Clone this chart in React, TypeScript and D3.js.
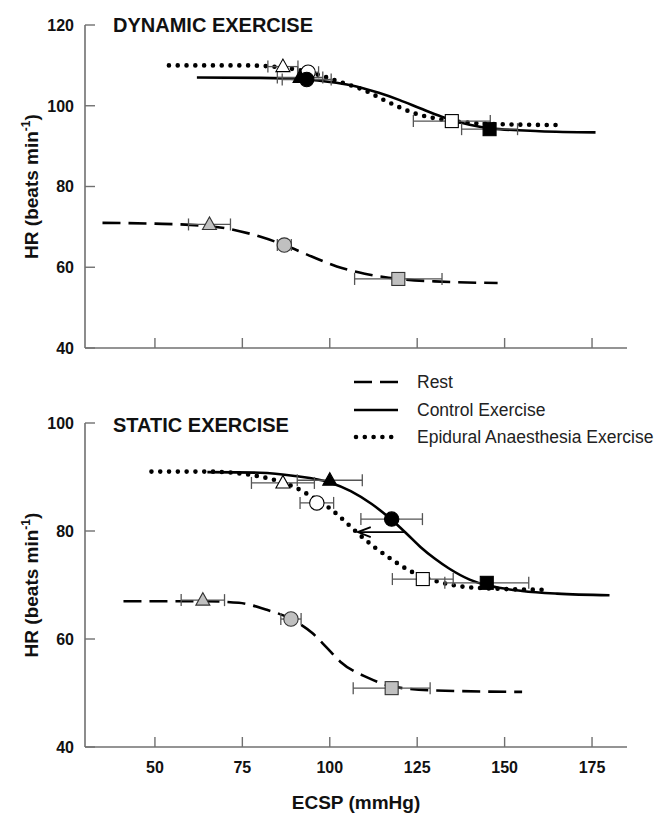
import React from 'react';
import * as d3 from 'd3';

// ---------- data ----------
const xTicks = [50, 75, 100, 125, 150, 175];
const topYTicks = [40, 60, 80, 100, 120];
const bottomYTicks = [40, 60, 80, 100];

type Pt = [number, number];

// Dynamic exercise curves (ECSP mmHg, HR beats/min)
const dynRestCurve: Pt[] = [[35, 71], [50, 70.8], [60, 70.5], [70, 69.7], [80, 67.6], [87, 65.5], [95, 62.6], [102, 60.2], [110, 58.4], [120, 57.1], [130, 56.5], [148, 56.1]];
const dynControlCurve: Pt[] = [[62, 107], [80, 106.9], [93, 106.5], [100, 105.9], [106, 105.1], [114, 103.2], [120, 101.4], [126, 99.3], [132, 97.3], [140, 95.3], [146, 94.4], [160, 93.7], [176, 93.4]];
const dynEpiduralCurve: Pt[] = [[54, 110], [75, 110], [85, 109.6], [93, 108.5], [97, 107.6], [104, 105.6], [110, 103.8], [116, 101.2], [120, 99.6], [124, 98.2], [132, 96.6], [140, 95.8], [150, 95.4], [167, 95.2]];

// Static exercise curves
const statRestCurve: Pt[] = [[41, 67], [55, 67], [64, 67], [74, 66.7], [82, 65.4], [89, 63.7], [95, 61.1], [99, 58.5], [103, 55.8], [111, 52.8], [118, 51.2], [129, 50.5], [155, 50.2]];
const statControlCurve: Pt[] = [[65, 90.9], [80, 90.8], [90, 90.2], [100, 89.0], [106, 87.4], [112, 85.0], [118, 81.9], [122, 79.5], [126, 77.0], [130, 74.9], [134, 73.1], [140, 71.0], [146, 69.8], [155, 68.9], [165, 68.4], [180, 68.1]];
const statEpiduralCurve: Pt[] = [[49, 91], [65, 91], [75, 90.6], [80, 90.1], [85, 89.3], [90, 88.1], [95, 86.3], [100, 84.2], [105, 81.4], [108, 79.6], [113, 76.9], [118, 74.6], [123, 72.6], [130, 70.8], [138, 69.7], [148, 69.3], [163, 69.1]];

type Shape = 'triangle' | 'circle' | 'square';
type Marker = { shape: Shape; x: number; y: number; xerr: number };

const dynRestMarkers: Marker[] = [
  { shape: 'triangle', x: 65.6, y: 70.6, xerr: 6 },
  { shape: 'circle', x: 87, y: 65.5, xerr: 2 },
  { shape: 'square', x: 119.6, y: 57.1, xerr: 12.5 },
];
const dynControlMarkers: Marker[] = [
  { shape: 'triangle', x: 91.5, y: 107, xerr: 6.5 },
  { shape: 'circle', x: 93.4, y: 106.5, xerr: 7 },
  { shape: 'square', x: 145.7, y: 94.2, xerr: 8 },
];
const dynEpiduralMarkers: Marker[] = [
  { shape: 'triangle', x: 86.6, y: 109.7, xerr: 4.3 },
  { shape: 'circle', x: 93.8, y: 108.3, xerr: 3 },
  { shape: 'square', x: 134.9, y: 96.2, xerr: 11 },
];

const statRestMarkers: Marker[] = [
  { shape: 'triangle', x: 63.7, y: 67.2, xerr: 6.2 },
  { shape: 'circle', x: 88.9, y: 63.7, xerr: 2.9 },
  { shape: 'square', x: 117.7, y: 50.9, xerr: 11 },
];
const statControlMarkers: Marker[] = [
  { shape: 'triangle', x: 100, y: 89.4, xerr: 9.3 },
  { shape: 'circle', x: 117.7, y: 82.2, xerr: 8.8 },
  { shape: 'square', x: 144.9, y: 70.4, xerr: 12 },
];
const statEpiduralMarkers: Marker[] = [
  { shape: 'triangle', x: 86.6, y: 88.9, xerr: 9 },
  { shape: 'circle', x: 96.3, y: 85.2, xerr: 4.8 },
  { shape: 'square', x: 126.6, y: 71.1, xerr: 8.7 },
];

// arrow in static panel: from ECSP, to ECSP, at HR
const statArrow = { from: 121.5, to: 108, hr: 79.8 };

const legendLabels = ['Rest', 'Control Exercise', 'Epidural Anaesthesia Exercise'];

// ---------- layout ----------
const W = 664;
const H = 813;
const FONT = 'Liberation Sans, Arial, Helvetica, sans-serif';
const AXIS = '#707070';

const xScale = d3.scaleLinear().domain([30, 185]).range([85, 627]);
const topY = d3.scaleLinear().domain([40, 120]).range([348, 25]);
const botY = d3.scaleLinear().domain([40, 100]).range([747, 423]);

type Style = { dash?: string; width: number; cap?: string };
const restStyle: Style = { dash: '18 8', width: 2.6 };
const controlStyle: Style = { width: 2.6 };
const epiStyle: Style = { dash: '0 8.8', width: 4.6, cap: 'round' };

const fills = { rest: '#c0c0c0', control: '#000', epi: '#fff' };
const strokes = { rest: '#333', control: '#000', epi: '#000' };

function MarkerShape({ m, cx, cy, fill, stroke }: { m: Marker; cx: number; cy: number; fill: string; stroke: string }) {
  if (m.shape === 'circle') return <circle cx={cx} cy={cy} r={7.2} fill={fill} stroke={stroke} strokeWidth={1.1} />;
  if (m.shape === 'square') return <rect x={cx - 6.5} y={cy - 6.5} width={13} height={13} fill={fill} stroke={stroke} strokeWidth={1.1} />;
  const pts = `${cx - 7},${cy + 5} ${cx + 7},${cy + 5} ${cx},${cy - 7.5}`;
  return <polygon points={pts} fill={fill} stroke={stroke} strokeWidth={1.1} strokeLinejoin="miter" />;
}

function ErrorBar({ m, y }: { m: Marker; y: d3.ScaleLinear<number, number> }) {
  const x1 = xScale(m.x - m.xerr);
  const x2 = xScale(m.x + m.xerr);
  const cy = y(m.y);
  return (
    <g stroke="#555" strokeWidth={1.3}>
      <line x1={x1} x2={x2} y1={cy} y2={cy} />
      <line x1={x1} x2={x1} y1={cy - 6} y2={cy + 6} />
      <line x1={x2} x2={x2} y1={cy - 6} y2={cy + 6} />
    </g>
  );
}

function Curve({ data, y, style }: { data: Pt[]; y: d3.ScaleLinear<number, number>; style: Style }) {
  const gen = d3.line<Pt>().x(d => xScale(d[0])).y(d => y(d[1])).curve(d3.curveMonotoneX);
  return (
    <path d={gen(data) || ''} fill="none" stroke="#000" strokeWidth={style.width}
      strokeDasharray={style.dash} strokeLinecap={(style.cap as any) || 'butt'} />
  );
}

function Panel(props: {
  y: d3.ScaleLinear<number, number>;
  yTicks: number[];
  title: string;
  titleY: number;
  showXLabels: boolean;
  rest: Pt[]; control: Pt[]; epi: Pt[];
  restM: Marker[]; controlM: Marker[]; epiM: Marker[];
  arrow?: { from: number; to: number; hr: number };
}) {
  const { y, yTicks } = props;
  const [d0, d1] = y.domain();
  const x0 = xScale.range()[0];
  const x1 = xScale.range()[1];
  const yBase = y(d0);
  const yCenter = (y(d0) + y(d1)) / 2;
  const allM = [
    ...props.restM.map(m => ({ m, k: 'rest' as const })),
    ...props.epiM.map(m => ({ m, k: 'epi' as const })),
    ...props.controlM.map(m => ({ m, k: 'control' as const })),
  ];
  return (
    <g>
      {/* axes */}
      <line x1={x0} x2={x0} y1={y(d1)} y2={yBase} stroke={AXIS} strokeWidth={1.6} />
      <line x1={x0} x2={x1} y1={yBase} y2={yBase} stroke={AXIS} strokeWidth={1.6} />
      {yTicks.map(t => (
        <g key={'y' + t}>
          <line x1={x0} x2={x0 + 10} y1={y(t)} y2={y(t)} stroke={AXIS} strokeWidth={1.4} />
          <text x={74} y={y(t)} dy="0.36em" textAnchor="end" fontFamily={FONT} fontWeight="bold" fontSize={16} fill="#111">{t}</text>
        </g>
      ))}
      {xTicks.map(t => (
        <g key={'x' + t}>
          <line x1={xScale(t)} x2={xScale(t)} y1={yBase} y2={yBase - 10} stroke={AXIS} strokeWidth={1.4} />
          {props.showXLabels && (
            <text x={xScale(t)} y={yBase + 26} textAnchor="middle" fontFamily={FONT} fontWeight="bold" fontSize={16} fill="#111">{t}</text>
          )}
        </g>
      ))}
      <text transform={`translate(38,${yCenter}) rotate(-90)`} textAnchor="middle" fontFamily={FONT} fontWeight="bold" fontSize={19} fill="#111">
        HR (beats min<tspan fontSize={12} dy={-8}>-1</tspan><tspan dy={8}>)</tspan>
      </text>
      <text x={113} y={props.titleY} fontFamily={FONT} fontWeight="bold" fontSize={20} fill="#111">{props.title}</text>

      {/* curves */}
      <Curve data={props.rest} y={y} style={restStyle} />
      <Curve data={props.control} y={y} style={controlStyle} />
      <Curve data={props.epi} y={y} style={epiStyle} />

      {props.arrow && (() => {
        const ay = y(props.arrow.hr);
        const xa = xScale(props.arrow.from);
        const xb = xScale(props.arrow.to);
        return (
          <g stroke="#000" strokeWidth={1.8} fill="none">
            <line x1={xa} x2={xb} y1={ay} y2={ay} />
            <path d={`M${xb + 13},${ay - 5} L${xb},${ay} L${xb + 13},${ay + 5}`} />
          </g>
        );
      })()}

      {/* error bars then markers */}
      {allM.map(({ m }, i) => <ErrorBar key={'e' + i} m={m} y={y} />)}
      {allM.map(({ m, k }, i) => (
        <MarkerShape key={'m' + i} m={m} cx={xScale(m.x)} cy={y(m.y)} fill={fills[k]} stroke={strokes[k]} />
      ))}
    </g>
  );
}

export default function App() {
  const legendStyles = [restStyle, controlStyle, epiStyle];
  const legendY = [382, 410, 437];
  return (
    <svg width={W} height={H} viewBox={`0 0 ${W} ${H}`}
      style={{ position: 'absolute', left: 0, top: 0, background: '#fff' }}>
      <rect x={0} y={0} width={W} height={H} fill="#fff" />
      <Panel y={topY} yTicks={topYTicks} title="DYNAMIC EXERCISE" titleY={32} showXLabels={false}
        rest={dynRestCurve} control={dynControlCurve} epi={dynEpiduralCurve}
        restM={dynRestMarkers} controlM={dynControlMarkers} epiM={dynEpiduralMarkers} />
      <Panel y={botY} yTicks={bottomYTicks} title="STATIC EXERCISE" titleY={432} showXLabels={true}
        rest={statRestCurve} control={statControlCurve} epi={statEpiduralCurve}
        restM={statRestMarkers} controlM={statControlMarkers} epiM={statEpiduralMarkers}
        arrow={statArrow} />
      <text x={356} y={809} textAnchor="middle" fontFamily={FONT} fontWeight="bold" fontSize={19} fill="#111">ECSP (mmHg)</text>
      {legendLabels.map((lab, i) => {
        const s = legendStyles[i];
        return (
          <g key={lab}>
            <line x1={i === 2 ? 356 : 354} x2={398} y1={legendY[i]} y2={legendY[i]} stroke="#000" strokeWidth={s.width}
              strokeDasharray={s.dash} strokeLinecap={(s.cap as any) || 'butt'} />
            <text x={417} y={legendY[i]} dy="0.35em" fontFamily={FONT} fontSize={17.5} fill="#222">{lab}</text>
          </g>
        );
      })}
    </svg>
  );
}
